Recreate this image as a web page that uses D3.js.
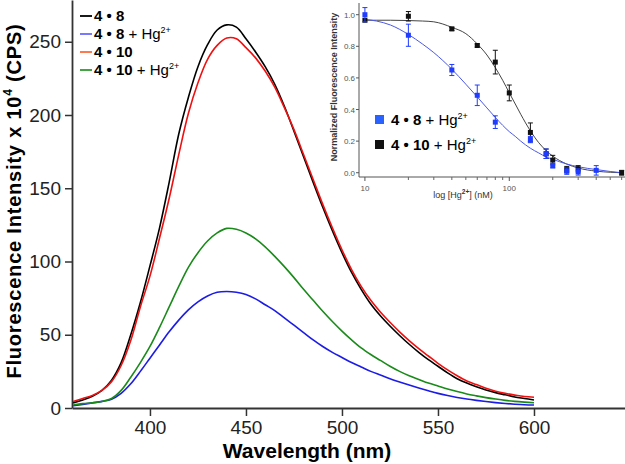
<!DOCTYPE html>
<html><head><meta charset="utf-8">
<script src="https://cdn.jsdelivr.net/npm/d3@7"></script>
<style>body{margin:0;background:#fff}svg{display:block;font-family:"Liberation Sans",Arial,sans-serif}</style>
</head><body><svg id="c" width="625" height="464"></svg>
<script>
// ---- main spectra data ----
const wavelengths = d3.range(360, 601, 5);
const s48 = [3.5,5.5,8,12,19,31,50,72,97,123,154,187,212,233,248,258,261.5,260,252,243,233,221,206,189,171.5,154,137,121,106,92.5,81,71,63,56,49.5,43.5,38,33,28.5,24,20,17,14.5,12.3,10.5,9,7.5,6.5,5.5];
const s48Hg = [1.5,2.5,3.5,4.5,6,10,16.5,25,34,43,52,60,67,72.5,76.5,79,79.5,79,77.5,74.5,70.5,66.5,61.5,56.5,51.5,46.5,42,38,34.5,31,28,25,22.5,20,17.8,15.7,13.7,11.8,10,8.5,7.2,6.1,5.2,4.4,3.7,3.1,2.6,2.2,2];
const s410 = [4.5,6.5,8.5,12,18,29,46,69,90,116,143,173,201,222,238,247.5,252.5,252,246,239,230,219,205,190,173,156,139,123,108,94.5,83,73.5,65.5,58.5,52,46,40.5,35.5,30.5,26,22,18.5,16,13.5,11.5,10,8.8,7.8,7.3];
const s410Hg = [2,3,3.5,4.5,6.5,12,21,31,42,55,69,83,96,106,114,119.5,122.6,122,119.5,115.5,110,103.5,96.5,89,81,73.5,66,59,52.5,46.5,41,36.5,32.5,28.5,25,22,19.5,17,15,13,11.2,9.6,8.3,7.1,6.1,5.2,4.5,4,3.6];
const seriesNames = ["4 • 8", "4 • 8", "4 • 10", "4 • 10"];
const seriesHg = [false, true, false, true];
const seriesColors = ["#000000", "#1c1ce6", "#ee1111", "#1a8a1a"];
const legendColors = ["#000000", "#6a6aff", "#ff6a3a", "#2e9a2e"];
const xTicks = [400, 450, 500, 550, 600];
const yTicks = [0, 50, 100, 150, 200, 250];

// ---- inset data ----
const concB = [10,20,40,60,80,140,180,200,250,300,400];
const valB  = [1.0,0.87,0.65,0.49,0.32,0.21,0.12,0.045,0.01,0.005,0.015];
const errB  = [0.045,0.07,0.035,0.065,0.04,0.02,0.03,0.015,0.02,0.02,0.03];
const concK = [10,20,40,60,80,100,140,180,200,250,300,600];
const valK  = [0.965,0.99,0.91,0.805,0.70,0.505,0.255,0.12,0.08,0.02,0.025,0.0];
const errK  = [0,0.03,0.01,0.01,0.075,0.05,0.06,0.03,0.03,0.02,0.02,0.015];
const fitX  = [10,12,15,20,25,30,40,50,60,70,80,90,100,110,120,140,160,180,200,250,300,400,500,600];
const fitB  = [0.97,0.96,0.935,0.875,0.815,0.76,0.655,0.56,0.48,0.41,0.35,0.30,0.26,0.23,0.20,0.155,0.125,0.10,0.085,0.055,0.038,0.02,0.008,0.0];
const fitK  = [0.965,0.965,0.965,0.963,0.96,0.955,0.92,0.88,0.815,0.745,0.665,0.585,0.505,0.435,0.37,0.265,0.19,0.14,0.105,0.055,0.03,0.01,0.003,0.0];
const insetYTicks = [0,0.2,0.4,0.6,0.8,1.0];
const insetXMajor = [10,100];
const insetXMinor = [20,30,40,50,60,70,80,90,200,300,400,500,600];

const svg = d3.select("#c");
const x = d3.scaleLinear().domain([359.4, 647.4]).range([72, 625]);
const y = d3.scaleLinear().domain([0, 278.5]).range([408, 0]);

// axes
const gx = svg.append("g").attr("transform","translate(0,408)")
  .call(d3.axisBottom(x).tickValues(xTicks).tickSize(8).tickPadding(5).tickSizeOuter(0));
const gy = svg.append("g").attr("transform","translate(72,0)")
  .call(d3.axisLeft(y).tickValues(yTicks).tickSize(7).tickPadding(4).tickSizeOuter(0));
[gx, gy].forEach(g => {
  g.select(".domain").attr("stroke","#333").attr("stroke-width",1.8);
  g.selectAll(".tick line").attr("stroke","#333").attr("stroke-width",1.5);
  g.selectAll(".tick text").attr("fill","#222").style("font-size","19px").style("font-family","Liberation Sans, Arial, sans-serif");
});

// lines
const allSeries = [s48, s48Hg, s410, s410Hg];
const line = d3.line().x((d,i)=>x(wavelengths[i])).y(d=>y(d)).curve(d3.curveCatmullRom);
const drawOrder = [1,3,0,2];
drawOrder.forEach(k => {
  svg.append("path").datum(allSeries[k]).attr("d", line)
    .attr("fill","none").attr("stroke", seriesColors[k]).attr("stroke-width",1.6);
});

// axis titles
svg.append("text").attr("x",307).attr("y",458).attr("text-anchor","middle")
  .style("font-size","21px").style("font-weight","bold").text("Wavelength (nm)");
const yl = svg.append("text").attr("transform","translate(21,201) rotate(-90)").attr("text-anchor","middle")
  .style("font-size","20px").style("font-weight","bold").style("letter-spacing","0.8px");
yl.append("tspan").text("Fluorescence Intensity x 10");
yl.append("tspan").attr("dy",-9).style("font-size","12px").text("4");
yl.append("tspan").attr("dy",9).text(" (CPS)");

// main legend
const legRows = [21, 39, 57, 75];
seriesNames.forEach((nm,i) => {
  const yy = legRows[i];
  svg.append("line").attr("x1",80).attr("x2",92).attr("y1",yy-5).attr("y2",yy-5)
    .attr("stroke",legendColors[i]).attr("stroke-width",1.8);
  const t = svg.append("text").attr("x",94).attr("y",yy).style("font-size","15px");
  t.append("tspan").style("font-weight","bold").text(nm);
  if (seriesHg[i]) {
    t.append("tspan").text(" + Hg");
    t.append("tspan").attr("dy",-6).style("font-size","9px").text("2+");
  }
});

// ---- inset ----
const ix = d3.scaleLog().domain([9.1, 633]).range([359, 625]);
const iy = d3.scaleLinear().domain([-0.027, 1.074]).range([177, 3]);
const ins = svg.append("g");
ins.append("line").attr("x1",359).attr("x2",625).attr("y1",177).attr("y2",177).attr("stroke","#555").attr("stroke-width",1);
ins.append("line").attr("x1",359).attr("x2",359).attr("y1",3).attr("y2",177).attr("stroke","#555").attr("stroke-width",1);
insetYTicks.forEach(v => {
  ins.append("line").attr("x1",356).attr("x2",359).attr("y1",iy(v)).attr("y2",iy(v)).attr("stroke","#555");
  ins.append("text").attr("x",355).attr("y",iy(v)+3).attr("text-anchor","end")
    .style("font-size","8px").attr("fill","#555").text(d3.format(".1f")(v));
});
insetXMajor.forEach(v => {
  ins.append("line").attr("x1",ix(v)).attr("x2",ix(v)).attr("y1",177).attr("y2",181).attr("stroke","#555");
  ins.append("text").attr("x",ix(v)).attr("y",191).attr("text-anchor","middle")
    .style("font-size","8px").attr("fill","#555").text(v);
});
insetXMinor.forEach(v => {
  ins.append("line").attr("x1",ix(v)).attr("x2",ix(v)).attr("y1",177).attr("y2",180).attr("stroke","#666");
});
// inset titles
ins.append("text").attr("transform","translate(337,87) rotate(-90)").attr("text-anchor","middle")
  .style("font-size","9px").style("font-weight","bold").attr("fill","#333").text("Normalized Fluorescence Intensity");
const ixl = ins.append("text").attr("x",463).attr("y",198).attr("text-anchor","middle")
  .style("font-size","9px").attr("fill","#333");
ixl.append("tspan").text("log [Hg");
ixl.append("tspan").attr("dy",-4).style("font-size","6.5px").style("font-weight","bold").text("2+");
ixl.append("tspan").attr("dy",4).text("] (nM)");

// fit curves
const fl = d3.line().x((d,i)=>ix(fitX[i])).y(d=>iy(d)).curve(d3.curveMonotoneX);
ins.append("path").datum(fitK).attr("d",fl).attr("fill","none").attr("stroke","#444").attr("stroke-width",1);
ins.append("path").datum(fitB).attr("d",fl).attr("fill","none").attr("stroke","#4a58e8").attr("stroke-width",1);

function scatter(conc, val, err, col) {
  conc.forEach((c,i) => {
    const cx = ix(c), cy = iy(val[i]);
    if (err[i] > 0) {
      const y1 = iy(val[i]+err[i]), y2 = iy(val[i]-err[i]);
      ins.append("line").attr("x1",cx).attr("x2",cx).attr("y1",y1).attr("y2",y2).attr("stroke",col).attr("stroke-width",1);
      ins.append("line").attr("x1",cx-2.5).attr("x2",cx+2.5).attr("y1",y1).attr("y2",y1).attr("stroke",col).attr("stroke-width",1);
      ins.append("line").attr("x1",cx-2.5).attr("x2",cx+2.5).attr("y1",y2).attr("y2",y2).attr("stroke",col).attr("stroke-width",1);
    }
    ins.append("rect").attr("x",cx-2.5).attr("y",cy-2.5).attr("width",5).attr("height",5).attr("fill",col);
  });
}
scatter(concK, valK, errK, "#111");
scatter(concB, valB, errB, "#1f3cff");

// inset legend
const il = [{c:"#2a62ff", n:"4 • 8", y:125}, {c:"#111", n:"4 • 10", y:150}];
il.forEach(d => {
  ins.append("rect").attr("x",375).attr("y",d.y-10).attr("width",9).attr("height",9).attr("fill",d.c);
  const t = ins.append("text").attr("x",391).attr("y",d.y).style("font-size","15px");
  t.append("tspan").style("font-weight","bold").text(d.n);
  t.append("tspan").text(" + Hg");
  t.append("tspan").attr("dy",-6).style("font-size","9px").text("2+");
});
</script></body></html>
